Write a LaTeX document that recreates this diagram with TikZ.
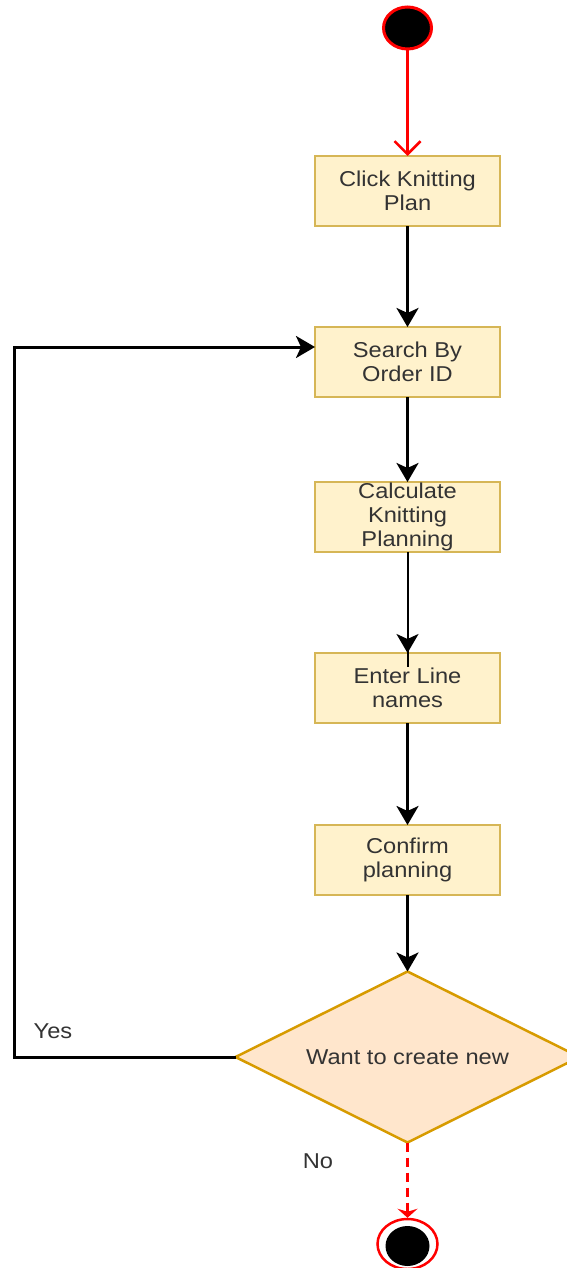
\documentclass[tikz,border=0pt]{standalone}
\usepackage{fontspec}
\setmainfont{Liberation Sans}[FakeStretch=1.1]
\usetikzlibrary{arrows.meta,shapes.geometric}
\definecolor{boxfill}{HTML}{FFF2CC}
\definecolor{boxline}{HTML}{D6B656}
\definecolor{dfill}{HTML}{FFE6CC}
\definecolor{dline}{HTML}{D79B00}
\definecolor{txt}{HTML}{333333}
\definecolor{ured}{HTML}{FF0000}
\tikzset{
  stepbox/.style={draw=boxline, fill=boxfill, line width=2.5pt, minimum width=185pt, minimum height=70pt, inner sep=0pt, outer sep=0pt, align=center, text=txt, font=\fontsize{21.5}{24}\selectfont},
  lbl/.style={text=txt, font=\fontsize{21.5}{24}\selectfont, inner sep=0pt},
  flow/.style={draw=black, line width=3pt, -{Stealth[length=19pt,width=22pt,inset=5pt]}},
  thinflow/.style={draw=black, line width=2pt, -{Stealth[length=19pt,width=22pt,inset=5pt]}},
  startarrow/.style={draw=ured, line width=2.5pt, -{Straight Barb[length=13pt,width=26pt,line width=2.5pt]}},
  endarrow/.style={draw=ured, line width=3pt, dash pattern=on 9pt off 6pt, -{Stealth[length=9pt,width=20pt,inset=3pt]}},
}
\begin{document}
\begin{tikzpicture}[x=1pt,y=-1pt]
\useasboundingbox (0,0) rectangle (567,1268);
\clip (0,0) rectangle (567,1268);
% start
\node[draw=ured, fill=black, line width=3pt, ellipse, minimum width=48pt, minimum height=42pt, inner sep=0pt] (start) at (407.5,28) {};
% boxes
\node[stepbox] (b1) at (407.5,191) {Click Knitting\\Plan};
\node[stepbox] (b2) at (407.5,362) {Search By\\Order ID};
\node[stepbox] (b3) at (407.5,517) {Calculate\\Knitting\\Planning};
\node[stepbox] (b4) at (407.5,688) {Enter Line\\names};
\node[stepbox] (b5) at (407.5,860) {Confirm\\planning};
% decision
\node[diamond, draw=dline, fill=dfill, line width=2.5pt, minimum width=344pt, minimum height=171pt, inner sep=0pt, outer sep=0pt, aspect=2, text=txt, font=\fontsize{21.5}{24}\selectfont] (d) at (407.5,1057) {Want to create new};
% end
\node[draw=ured, line width=2.5pt, ellipse, minimum width=60pt, minimum height=50pt, inner sep=0pt] (endo) at (407.5,1244) {};
\node[fill=black, ellipse, minimum width=44pt, minimum height=40pt, inner sep=0pt] (endi) at (407.5,1246) {};
% labels
\node[lbl] (yes) at (53,1031) {Yes};
\node[lbl] (no) at (318,1161) {No};
% connectors
\draw[startarrow] (start.south) -- (b1.north);
\draw[flow] (b1.south) -- (b2.north);
\draw[flow] (b2.south) -- (b3.north);
\coordinate (b4in) at ([yshift=-14pt]b4.north);
\draw[draw=black, line width=2pt] (b3.south) -- (b4in);
\draw[thinflow] (b3.south) -- (b4.north);
\draw[flow] (b4.south) -- (b5.north);
\draw[flow] (b5.south) -- (d.north);
\coordinate (yb) at (14,1057);
\coordinate (yt) at (14,347);
\draw[flow] (d.west) -- (yb) -- (yt) -- (b2.west |- yt);
\draw[endarrow] (d.south) -- (endo.north);
\end{tikzpicture}
\end{document}
